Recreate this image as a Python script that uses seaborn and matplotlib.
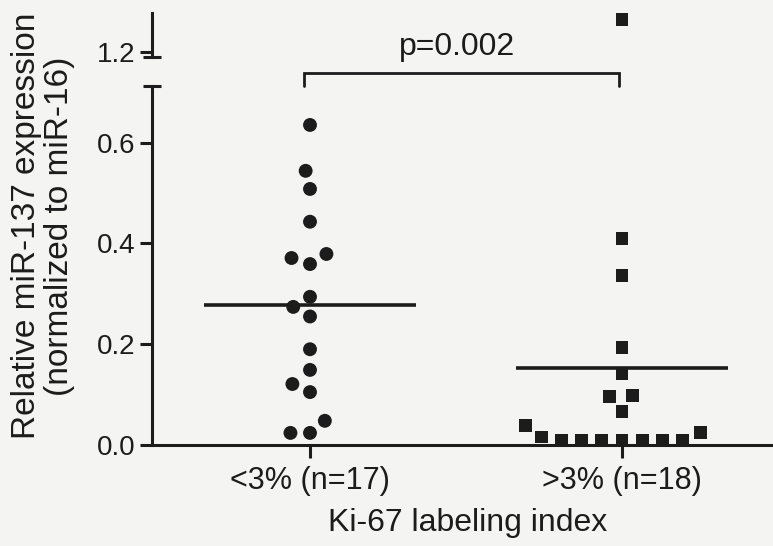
import numpy as np
import pandas as pd
import matplotlib
matplotlib.use("Agg")
import matplotlib.pyplot as plt
import seaborn as sns

# ---- data ----
categories = ["<3% (n=17)", ">3% (n=18)"]
low_ki67 = [0.635, 0.544, 0.508, 0.443, 0.379, 0.371, 0.359, 0.294, 0.274,
            0.255, 0.190, 0.149, 0.121, 0.105, 0.048, 0.024, 0.024]
high_ki67 = [1.264, 0.409, 0.336, 0.194, 0.141, 0.098, 0.096, 0.066, 0.038,
             0.025, 0.016, 0.010, 0.010, 0.010, 0.010, 0.010, 0.010, 0.010]
lower_ticks = [0.0, 0.2, 0.4, 0.6]
upper_ticks = [1.2]
p_text = "p=0.002"
x_label = "Ki-67 labeling index"
y_label = "Relative miR-137 expression\n(normalized to miR-16)"

df = pd.DataFrame({
    "group": [categories[0]] * len(low_ki67) + [categories[1]] * len(high_ki67),
    "value": low_ki67 + high_ki67,
})

sns.set_theme(style="white")
plt.rcParams["font.family"] = ["Liberation Sans", "DejaVu Sans"]

BG = "#f4f4f2"
INK = "#1c1c1c"
W, H = 773, 546
fig = plt.figure(figsize=(W / 100, H / 100), dpi=100, facecolor=BG)

left_px, right_px = 152, 771
low_top_px, low_bot_px = 86, 445
up_top_px, up_bot_px = 13, 57
px_per_unit = 504.0

def fr(x0, y_top, x1, y_bot):
    return [x0 / W, 1 - y_bot / H, (x1 - x0) / W, (y_bot - y_top) / H]

ax = fig.add_axes(fr(left_px, low_top_px, right_px, low_bot_px))
axu = fig.add_axes(fr(left_px, up_top_px, right_px, up_bot_px))
for a in (ax, axu):
    a.set_facecolor("none")

cat_px = [310, 622]
unit_x = cat_px[1] - cat_px[0]
xlim = ((left_px - cat_px[0]) / unit_x, 1 + (right_px - cat_px[1]) / unit_x)

split = 1.0
# marker, size (pt), invisible edge width used only to widen swarm spacing
markers = {categories[0]: ("o", 10.0, 3.4), categories[1]: ("s", 9.2, 4.6)}
for cat in categories:
    m, sz, gap = markers[cat]
    sub = df[df["group"] == cat]
    lo = sub[sub["value"] < split]
    hi = sub[sub["value"] >= split]
    sns.swarmplot(data=lo, x="group", y="value", order=categories, ax=ax,
                  marker=m, size=sz, color=INK, linewidth=gap, edgecolor="none")
    if len(hi):
        sns.swarmplot(data=hi, x="group", y="value", order=categories, ax=axu,
                      marker=m, size=sz, color=INK, linewidth=gap, edgecolor="none")

for c in ax.collections + axu.collections:
    c.set_edgecolor("none")
    if len(c.get_offsets()) > 0:
        c.set_clip_on(False)

# mean lines
for i, vals in enumerate([low_ki67, high_ki67]):
    ax.hlines(np.mean(vals), i - 0.34, i + 0.34, color=INK, lw=2.6, zorder=1)

ax.set_xlim(*xlim)
axu.set_xlim(*xlim)
ax.set_ylim(0, (low_bot_px - low_top_px) / px_per_unit)
axu.set_ylim(1.2 - (up_bot_px - 52) / px_per_unit, 1.2 + (52 - up_top_px) / px_per_unit)

ax.set_yticks(lower_ticks)
ax.set_yticklabels([f"{t:.1f}" for t in lower_ticks])
axu.set_yticks(upper_ticks)
axu.set_yticklabels([f"{t:.1f}" for t in upper_ticks])
ax.set_xticks(range(len(categories)))
ax.set_xticklabels(categories)
axu.set_xticks([])

for a in (ax, axu):
    for s in ("top", "right"):
        a.spines[s].set_visible(False)
    a.spines["left"].set_linewidth(2.2)
    a.spines["left"].set_color(INK)
    a.set_xlabel("")
    a.set_ylabel("")
    a.tick_params(axis="y", direction="out", length=9, width=2.2, color=INK,
                  labelsize=20, labelcolor=INK, pad=3, left=True)
axu.spines["bottom"].set_visible(False)
ax.spines["bottom"].set_linewidth(2.2)
ax.spines["bottom"].set_color(INK)
ax.tick_params(axis="x", direction="out", length=9, width=2.2, color=INK,
               labelsize=22, labelcolor=INK, pad=6, bottom=True)

# break caps
cap = 9.0 / (right_px - left_px)
ax.plot([-cap, cap], [1, 1], transform=ax.transAxes, color=INK, lw=2.2,
        clip_on=False, solid_capstyle="butt")
axu.plot([-cap, cap], [0, 0], transform=axu.transAxes, color=INK, lw=2.2,
         clip_on=False, solid_capstyle="butt")

# significance bracket
yb = (low_bot_px - 73) / px_per_unit
yd = (low_bot_px - 86) / px_per_unit
ax.plot([-0.02, -0.02, 0.99, 0.99], [yd, yb, yb, yd], color=INK, lw=2.0,
        clip_on=False, solid_joinstyle="miter")
ax.text(0.47, (low_bot_px - 47) / px_per_unit, p_text, ha="center", va="center",
        fontsize=23, color=INK, clip_on=False)

fig.text(468 / W, 1 - 523 / H, x_label, ha="center", va="center",
         fontsize=23, color=INK)
fig.text(43 / W, 1 - 226 / H, y_label, ha="center", va="center", rotation=90,
         fontsize=24, color=INK, multialignment="center", linespacing=1.12)

fig.savefig("out.png", dpi=100, facecolor=BG)
